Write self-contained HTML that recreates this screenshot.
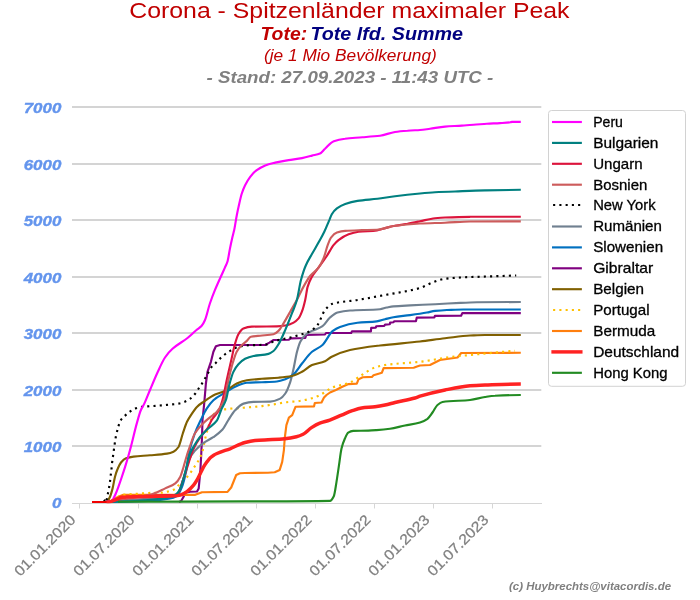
<!DOCTYPE html>
<html lang="de"><head><meta charset="utf-8"><title>Corona - Spitzenländer maximaler Peak</title>
<style>html,body{margin:0;padding:0;background:#fff}body{width:700px;height:600px;overflow:hidden}svg{display:block;will-change:transform;opacity:.999}text{font-family:"Liberation Sans", sans-serif}.yt{font-size:14.2px;font-weight:bold;font-style:italic;fill:#6495ed;text-anchor:end;stroke:#6495ed;stroke-width:0.35px}.xt{font-size:14.6px;fill:#808080;text-anchor:end;stroke:#808080;stroke-width:0.25px}.lg{font-size:14.6px;fill:#000;stroke:#000;stroke-width:0.3px}.c{fill:none;stroke-linejoin:round;stroke-linecap:butt}</style></head><body>
<svg width="700" height="600" viewBox="0 0 700 600">
<rect width="700" height="600" fill="#fff"/>
<text x="129.3" y="17.8" font-size="22.3" fill="#c00000" textLength="440.2" lengthAdjust="spacingAndGlyphs">Corona - Spitzenländer maximaler Peak</text>
<text x="260.5" y="40" font-size="17.8" font-weight="bold" font-style="italic" fill="#c00000" textLength="46.6" lengthAdjust="spacingAndGlyphs">Tote:</text>
<text x="310.4" y="40" font-size="17.8" font-weight="bold" font-style="italic" fill="#000080" textLength="152.7" lengthAdjust="spacingAndGlyphs">Tote lfd. Summe</text>
<text x="264" y="61" font-size="16.2" font-style="italic" fill="#c00000" textLength="172.8" lengthAdjust="spacingAndGlyphs">(je 1 Mio Bevölkerung)</text>
<text x="206.5" y="83" font-size="16.2" font-weight="bold" font-style="italic" fill="#808080" textLength="286.8" lengthAdjust="spacingAndGlyphs">- Stand: 27.09.2023 - 11:43 UTC -</text>
<g stroke="#d4d4d4" stroke-width="2">
<line x1="72" x2="541.3" y1="446" y2="446"/>
<line x1="72" x2="541.3" y1="390" y2="390"/>
<line x1="72" x2="541.3" y1="333" y2="333"/>
<line x1="72" x2="541.3" y1="277" y2="277"/>
<line x1="72" x2="541.3" y1="220" y2="220"/>
<line x1="72" x2="541.3" y1="164" y2="164"/>
<line x1="72" x2="541.3" y1="107" y2="107"/>
</g>
<g stroke="#d6d6d6" stroke-width="1">
<line x1="72" x2="542" y1="503.5" y2="503.5"/>
<line x1="79.5" x2="79.5" y1="503.5" y2="508.5"/>
<line x1="138.5" x2="138.5" y1="503.5" y2="508.5"/>
<line x1="197.5" x2="197.5" y1="503.5" y2="508.5"/>
<line x1="256.5" x2="256.5" y1="503.5" y2="508.5"/>
<line x1="315.5" x2="315.5" y1="503.5" y2="508.5"/>
<line x1="374.5" x2="374.5" y1="503.5" y2="508.5"/>
<line x1="433.5" x2="433.5" y1="503.5" y2="508.5"/>
<line x1="492.5" x2="492.5" y1="503.5" y2="508.5"/>
</g>
<text class="yt" x="61.3" y="507.9" textLength="9.4" lengthAdjust="spacingAndGlyphs">0</text>
<text class="yt" x="61.3" y="452.2" textLength="37.6" lengthAdjust="spacingAndGlyphs">1000</text>
<text class="yt" x="61.3" y="396.2" textLength="37.6" lengthAdjust="spacingAndGlyphs">2000</text>
<text class="yt" x="61.3" y="339.2" textLength="37.6" lengthAdjust="spacingAndGlyphs">3000</text>
<text class="yt" x="61.3" y="283.2" textLength="37.6" lengthAdjust="spacingAndGlyphs">4000</text>
<text class="yt" x="61.3" y="226.2" textLength="37.6" lengthAdjust="spacingAndGlyphs">5000</text>
<text class="yt" x="61.3" y="170.2" textLength="37.6" lengthAdjust="spacingAndGlyphs">6000</text>
<text class="yt" x="61.3" y="113.2" textLength="37.6" lengthAdjust="spacingAndGlyphs">7000</text>
<text class="xt" transform="translate(76.4,520.8) rotate(-45)" x="0" y="0" textLength="79.5" lengthAdjust="spacingAndGlyphs">01.01.2020</text>
<text class="xt" transform="translate(135.4,520.8) rotate(-45)" x="0" y="0" textLength="79.5" lengthAdjust="spacingAndGlyphs">01.07.2020</text>
<text class="xt" transform="translate(194.4,520.8) rotate(-45)" x="0" y="0" textLength="79.5" lengthAdjust="spacingAndGlyphs">01.01.2021</text>
<text class="xt" transform="translate(253.4,520.8) rotate(-45)" x="0" y="0" textLength="79.5" lengthAdjust="spacingAndGlyphs">01.07.2021</text>
<text class="xt" transform="translate(312.4,520.8) rotate(-45)" x="0" y="0" textLength="79.5" lengthAdjust="spacingAndGlyphs">01.01.2022</text>
<text class="xt" transform="translate(371.4,520.8) rotate(-45)" x="0" y="0" textLength="79.5" lengthAdjust="spacingAndGlyphs">01.07.2022</text>
<text class="xt" transform="translate(430.4,520.8) rotate(-45)" x="0" y="0" textLength="79.5" lengthAdjust="spacingAndGlyphs">01.01.2023</text>
<text class="xt" transform="translate(489.4,520.8) rotate(-45)" x="0" y="0" textLength="79.5" lengthAdjust="spacingAndGlyphs">01.07.2023</text>
<clipPath id="ax"><rect x="72" y="100" width="470" height="403.2"/></clipPath><g clip-path="url(#ax)">
<path class="c" d="M179,501.9 L181.1,501 L183.6,496.8 L185.3,492.6 L190,491.8 L197,491.5 L198.7,488.4 L200.3,471.7 L201.2,455 L202,437.5 L202.5,420 L204.2,403.6 L205.9,383.5 L207.5,371.8 L210.9,361.8 L213.4,351.8 L215.9,346.2 L220,345 L265.2,345 L269.4,342.6 L273.6,340 L288.6,339.7 L291.1,338.4 L305.3,338 L306.2,335 L325,334.5 L326,333 L351.2,333 L352,331.3 L370.9,331.3 L371.2,327.9 L375.9,327.6 L376.2,326.3 L384.2,325.9 L385.1,324.6 L389.8,324.2 L390.1,322.6 L393.4,322.2 L394.3,321.2 L416,321.1 L416.8,317.6 L434.4,317.4 L434.9,315.9 L461.1,315.7 L462.3,313.1 L520.8,313.1" stroke="#800080" stroke-width="2.15"/>
<path class="c" d="M106,501.9 L110,501.5 L112.5,500 L118.4,496.8 L123.4,494.8 L195.3,494.8 L202,492.2 L227.5,491.9 L231.2,487.5 L236.2,475 L240,473.2 L245,473 L268,472.7 L274.7,472.2 L279.7,469.9 L282.2,461.9 L283.9,450.2 L284.7,438.5 L286.4,425.1 L288.9,417.6 L292.2,415.1 L295.6,406.7 L314,406.4 L314.8,403 L321.5,402.5 L324,397.5 L326.5,395 L330,392.5 L335.9,390 L341.8,387 L348.5,384.1 L356.8,383.6 L358.5,379.4 L362.7,377.2 L371.9,376.9 L373.5,375.3 L381.9,372.7 L383.6,368.1 L413.7,367.7 L417,366.5 L420,365.5 L430,365 L440,360 L457.5,357.5 L461.2,353 L520.8,352.8" stroke="#ff7f0e" stroke-width="2.15"/>
<path class="c" d="M106,501.9C106.7,501.8 107.3,501.7 108,501.5C109.5,501.1 111,500.6 112.5,500C115.9,498.7 119.2,495.5 122.6,495C127.3,494.3 132.1,494.2 136.8,493.8C140.7,493.5 144.6,493.2 148.5,493C153,492.8 157.5,492.9 162,492.6C163.9,492.5 165.8,492 167.7,491.6C169.9,491.1 172.2,490.5 174.4,489.4C175.8,488.7 177.2,486.6 178.6,485.2C181.4,482.5 184.1,480.3 186.9,477.2C188.3,475.6 189.7,473.8 191.1,471.9C192.2,470.4 193.3,468.6 194.4,466.9C195.5,465.2 196.7,463.7 197.8,461.8C198.8,460.1 199.8,458.4 200.8,456C201.5,454.4 202.1,452.5 202.8,450.1C203.6,447.1 204.5,441.6 205.3,438.1C205.9,435.7 206.4,433.8 207,431.8C207.8,428.9 208.7,425.7 209.5,423.4C210.9,419.6 212.3,415.4 213.7,414.2C217.2,411.3 220.7,410 224.2,409.4C230.6,408.4 237.1,408.3 243.5,407.7C249.6,407.2 255.8,406.8 261.9,406.1C265.8,405.7 269.7,405 273.6,404.4C278,403.7 282.5,402.7 286.9,402.2C290.8,401.7 294.7,401.6 298.6,401.1C303.1,400.5 307.5,399.5 312,398.2C314.7,397.4 317.3,396.3 320,395C324.2,393 328.3,389.1 332.5,387.5C338.3,385.2 344.2,384.9 350,382.5C353.3,381.1 356.7,378.3 360,376.2C365,373.2 370,369.2 375,367.5C378.3,366.4 381.7,365.5 385,365C396.7,363.3 408.3,363.1 420,361.8C425,361.2 430,360.3 435,359.5C440,358.7 445,357.6 450,357C455,356.4 460,356 465,355.5C470.8,354.9 476.7,354.3 482.5,353.8C493.3,352.7 504.2,351.7 515,350.8" stroke="#ffc000" stroke-width="2.15" stroke-dasharray="2.1 4.15"/>
<path class="c" d="M106,501.9C113,501.2 120,500.5 127,500C135.3,499.4 143.7,499.1 152,498.5C157.5,498.1 163.1,497.8 168.6,496.8C171.9,496.2 175.3,495.3 178.6,492.6C180.3,491.2 182.1,482.9 183.8,477.5C185.6,471.8 187.5,463 189.3,459.2C191.1,455.4 193,453 194.8,450.9C197.9,447.4 200.9,444.9 204,442.7C207.1,440.5 210.1,439.3 213.2,437.2C216.2,435.1 219.3,433.1 222.3,429.8C224.3,427.6 226.4,423.1 228.4,420C230.6,416.6 232.9,412.6 235.1,410.3C237.9,407.4 240.7,404.4 243.5,403.6C246.8,402.6 250.2,402 253.5,401.9C259.1,401.7 264.6,401.8 270.2,401.6C273.5,401.5 276.9,400.2 280.2,398.6C281.9,397.8 283.6,395.9 285.3,393.5C287,391.2 288.6,386.8 290.3,381.8C291.4,378.5 292.5,373.4 293.6,368.5C294.7,363.5 295.9,356.1 297,351.8C298.1,347.7 299.2,343.8 300.3,341.7C302,338.5 303.6,336.4 305.3,335C307.5,333.1 309.8,332.1 312,330.9C315.5,329.1 319,328.6 322.5,326.2C325,324.6 327.5,319.6 330,317.5C332.5,315.4 335,313.2 337.5,312.5C341.7,311.4 345.8,310.8 350,310.5C360,309.8 370,310.1 380,309.2C382.2,309 384.5,307.9 386.7,307.5C388.9,307.1 391.2,306.6 393.4,306.4C399,305.9 404.5,305.7 410.1,305.4C418.5,305 426.8,304.6 435.2,304.2C443.6,303.8 451.9,303.3 460.3,302.9C465.9,302.6 471.4,302.3 477,302.2C491.6,302.1 506.2,302 520.8,302" stroke="#708090" stroke-width="2.15"/>
<path class="c" d="M106,501.9C120.2,501.9 134.3,501.5 148.5,501C155.2,500.7 161.9,500 168.6,498.8C171.4,498.3 174.1,497.7 176.9,496C178.6,495 180.3,491 182,486.8C183.3,483.5 184.7,477.9 186,471.7C187.1,466.6 188.2,456.6 189.3,451.8C191.1,443.7 193,438.4 194.8,433.5C196.8,428.1 198.8,424.2 200.8,420C202.8,415.9 204.7,411.6 206.7,408.6C208.9,405.2 211.2,402.2 213.4,400.2C217.3,396.8 221.2,395.1 225.1,392.7C229,390.3 232.9,387.6 236.8,386C240.1,384.6 243.5,382.9 246.8,382.7C251.8,382.4 256.9,382.4 261.9,382.2C266.9,382 271.9,381.9 276.9,381.5C279.7,381.3 282.5,380.3 285.3,379.3C288.1,378.3 290.8,376.6 293.6,374.3C296.4,372 299.2,366.9 302,363.5C305.3,359.4 308.7,354.6 312,351.8C315.5,348.9 319,348.1 322.5,345C325.8,342.1 329.2,333.9 332.5,331.2C335,329.3 337.5,327.9 340,327C345.8,324.9 351.7,323.5 357.5,322.8C363.9,322.1 370.3,322.2 376.7,321.4C379.5,321.1 382.3,319.9 385.1,319.2C387.9,318.5 390.6,317.7 393.4,317.2C399,316.2 404.5,315.9 410.1,315.1C415.7,314.3 421.3,313.5 426.9,312.5C429.7,312 432.4,311.2 435.2,310.9C439.1,310.5 443,310.2 446.9,310C452.5,309.8 458,309.5 463.6,309.5C482.7,309.5 501.7,309.5 520.8,309.5" stroke="#0070c0" stroke-width="2.15"/>
<path class="c" d="M105,501.8C105.3,501.9 105.7,501.9 106,501.9C106.5,501.9 107.1,501.4 107.6,501C108.4,500.3 109.2,498.6 110,496.8C110.9,494.8 111.7,491.8 112.6,488.4C113.4,485.3 114.2,479.7 115,476.7C115.9,473.5 116.7,471 117.6,469C118.7,466.3 119.9,463.9 121,462.5C122.7,460.5 124.3,458.9 126,458.3C128.5,457.4 131,456.9 133.5,456.6C139,455.9 144.5,455.8 150,455.3C155.7,454.8 161.3,454.5 167,453.6C169.2,453.3 171.3,452.7 173.5,451.7C175.2,450.9 176.8,449.4 178.5,447C179.9,444.9 181.4,437.7 182.8,433.5C184.2,429.4 185.6,424.7 187,421.8C188.6,418.5 190.1,416.4 191.7,414C193.4,411.4 195.2,408.6 196.9,406.9C199.1,404.7 201.2,403.4 203.4,401.9C207.3,399.1 211.2,396.1 215.1,394.4C218.4,392.9 221.8,392.5 225.1,391C229,389.3 232.9,385.2 236.8,383.5C240.1,382.1 243.5,380.7 246.8,380.2C251.8,379.4 256.9,379.2 261.9,378.8C267.5,378.4 273,378.2 278.6,377.7C283,377.3 287.5,376.9 291.9,376C295.3,375.3 298.6,373.5 302,371.8C305.3,370.1 308.7,366.5 312,365.1C316.3,363.3 320.7,363.1 325,361.2C327.1,360.3 329.2,358.1 331.2,357C337.5,353.8 343.8,351.4 350,350C360,347.8 370,346.7 380,345.5C393.3,343.9 406.7,343 420,341.5C428.3,340.5 436.7,339.2 445,338.2C453.3,337.3 461.7,335.9 470,335.5C475,335.3 480,335 485,335C496.9,335 508.8,335 520.8,335" stroke="#806000" stroke-width="2.15"/>
<path class="c" d="M104,501.5C104.6,500 105.3,500 105.9,500C105.9,500 106,501.9 106,501.9C106.5,501.9 107.1,497.5 107.6,495C108,493 108.5,490.8 108.9,488.4C109.3,486.4 109.6,484.5 110,481.7C110.2,480.2 110.4,477.7 110.6,476C110.9,473.8 111.1,472.4 111.4,470C111.6,468.2 111.8,465.2 112,463.4C112.3,460.8 112.6,459.1 112.9,457C114,449.3 115.1,439.9 116.2,435C117.8,428.2 119.4,422.4 120.9,420C122.3,417.8 123.7,416.9 125.1,415.6C126.7,414.1 128.2,412.7 129.8,411.6C131.6,410.4 133.3,409.2 135.1,408.6C137.2,407.8 139.4,407.2 141.5,406.9C143.5,406.6 145.6,406.6 147.6,406.4C154,405.9 160.5,405.5 166.9,404.9C170.8,404.5 174.7,404.3 178.6,403.6C180.5,403.3 182.5,402.6 184.4,401.9C186.4,401.1 188.3,400 190.3,398.6C192,397.4 193.6,395.6 195.3,393.5C196.4,392.1 197.5,390.1 198.6,388.5C199.7,386.8 200.9,385.3 202,383.5C203,381.9 204,380.2 205,378.5C205.9,376.9 206.9,375.2 207.8,373.5C208.9,371.5 210,369 211.1,367.6C212.5,365.8 213.9,364.9 215.3,363.5C216.9,361.9 218.4,360 220,358.6C223.4,355.6 226.7,352.9 230.1,350.9C232.9,349.2 235.7,347.4 238.5,346.7C241.3,346 244,345.6 246.8,345.4C252.9,345 259.1,345.2 265.2,344.7C268.5,344.4 271.9,341.9 275.2,340.9C280.2,339.5 285.3,338.8 290.3,337.5C294.2,336.5 298.1,335.5 302,334.2C305.3,333.1 308.7,332 312,330C313.8,328.9 315.7,327.2 317.5,325C320,321.9 322.5,312.9 325,310C327.5,307.1 330,304.5 332.5,303.8C340.8,301.3 349.2,301.4 357.5,300C366.7,298.5 375.8,296.7 385,295C396.7,292.8 408.3,291.4 420,288C424.2,286.8 428.3,284 432.5,282.5C436.7,281 440.8,279.3 445,278.8C450,278.1 455,277.8 460,277.5C471.7,276.9 483.3,276.7 495,276.2C502.1,276 509.2,275.7 516.2,275.5" stroke="#000000" stroke-width="2.15" stroke-dasharray="2.1 4.15"/>
<path class="c" d="M106,501.9C106.7,501.8 107.3,501.6 108,501.5C111.3,500.9 114.7,500.5 118,500C123.7,499.1 129.3,497.6 135,497C143.3,496.1 151.7,495.4 160,495.2C165.7,495.1 171.3,495.2 177,495C178.7,495 180.3,487.4 182,483C183.8,478.1 185.7,472 187.5,466.5C189.3,461 191.2,454.1 193,450C195.4,444.5 197.9,440.7 200.3,437.2C202.8,433.6 205.2,431.9 207.7,428C209,425.9 210.4,422.2 211.7,420C214.1,416 216.6,414.7 219,410C220.2,407.7 221.3,404.1 222.5,400C223.9,395.1 225.3,386.6 226.7,380.2C228.1,373.8 229.5,367.9 230.9,361.8C232.3,355.7 233.7,348.2 235.1,343.5C236.2,339.8 237.3,336.1 238.4,334.3C240.1,331.5 241.7,329.3 243.4,328.6C246.2,327.4 249,326.7 251.8,326.6C260.2,326.4 268.5,326.5 276.9,326.4C280.2,326.3 283.6,325.8 286.9,325.2C289.1,324.8 291.4,323.8 293.6,322.6C295.3,321.7 296.9,320.4 298.6,318.4C299.7,317.1 300.8,314.5 301.9,311.7C303,308.9 304.1,304.8 305.2,300C306,296.5 306.8,289.7 307.6,286.9C309,282.1 310.4,279.4 311.8,276.9C314,272.9 316.3,270.8 318.5,267.7C321.3,263.9 324,260.2 326.8,256C329,252.6 331.3,247.8 333.5,245.1C335.2,243.1 336.8,241.4 338.5,240.1C341.9,237.6 345.2,235.5 348.6,234.3C351.9,233.1 355.3,232.2 358.6,231.8C364.7,231 370.9,231.2 377,230.4C380.3,230 383.7,228.4 387,227.6C389.7,226.9 392.3,226.3 395,225.8C399.2,225 403.3,224.5 407.5,223.8C411.7,223 415.8,222.1 420,221.2C425,220.2 430,218.7 435,218.2C438.3,217.9 441.7,217.6 445,217.5C453.3,217.1 461.7,216.8 470,216.8C486.9,216.7 503.8,216.7 520.8,216.7" stroke="#dc143c" stroke-width="2.15"/>
<path class="c" d="M106,501.9C106.7,501.8 107.3,501.6 108,501.5C110.3,501 112.7,500.4 115,500C121.7,498.9 128.3,498.6 135,497.6C140.6,496.8 146.3,495.9 151.9,494.3C156.3,493.1 160.8,490.5 165.2,488.4C168.6,486.8 171.9,486 175.3,483.4C177,482.1 178.6,479.9 180.3,476.7C181.4,474.6 182.5,470.2 183.6,466.7C184.7,463 185.9,458.6 187,455C187.8,452.6 188.5,450.4 189.3,448.2C191.1,443 193,436.6 194.8,433.5C197.9,428.3 200.9,425.6 204,422.5C205.5,421 206.9,419.8 208.4,418.6C211.2,416.3 213.9,414.9 216.7,411.9C219.2,409.2 221.7,406.2 224.2,400C225.6,396.5 227,386.2 228.4,380.2C229.8,374.2 231.2,368.1 232.6,363.5C234,359 235.3,354.3 236.7,351.8C238.4,348.7 240.1,346.8 241.8,345.1C243.5,343.4 245.1,342.4 246.8,340.9C248.2,339.6 249.5,337.1 250.9,336.8C254,336.1 257,336 260.1,335.7C264.6,335.2 269,335.2 273.5,334.3C275.2,334 276.8,332.5 278.5,330.9C280.2,329.3 281.8,326.1 283.5,323.4C285.7,319.8 288,315.6 290.2,311.7C292.4,307.8 294.6,304.1 296.8,300C299,295.9 301.2,290.8 303.4,286.9C305.6,282.9 307.9,278.8 310.1,276C312.9,272.5 315.7,271.4 318.5,267.7C320.2,265.5 321.8,262.4 323.5,258.5C324.9,255.2 326.3,248.8 327.7,245.1C328.8,242.2 329.9,239 331,237.6C333,235.1 334.9,233.3 336.9,232.6C339.7,231.7 342.4,231.1 345.2,230.9C350.8,230.4 356.3,230.3 361.9,230.1C366.9,230 372,230 377,229.8C380.3,229.7 383.7,228.4 387,227.6C389.7,227 392.3,226.1 395,225.8C403.3,224.6 411.7,223.9 420,223.5C428.3,223.1 436.7,223 445,222.7C453.3,222.4 461.7,221.6 470,221.5C486.9,221.4 503.8,221.3 520.8,221.3" stroke="#cd5c5c" stroke-width="2.15"/>
<path class="c" d="M106,501.9C115.7,501.9 125.3,501.4 135,501C143.4,500.6 151.8,499.9 160.2,498.8C165.2,498.1 170.3,497.5 175.3,495.1C177,494.3 178.6,491.6 180.3,488.4C182,485.2 183.6,477.8 185.3,471.7C186.7,466.6 188.1,458.7 189.5,455C191,451 192.5,448.6 194,446C196,442.5 198,439.5 200,437C202.6,433.8 205.1,431.4 207.7,428.9C210.7,425.9 213.8,424.9 216.8,420.7C218.4,418.4 220.1,412.2 221.7,408.6C223.1,405.5 224.5,404 225.9,400C227,396.9 228.1,389.3 229.2,385.2C230.6,380 232,374.8 233.4,371.9C235.1,368.4 236.7,366.1 238.4,364.3C240.6,361.9 242.9,359.8 245.1,358.7C247.9,357.4 250.7,356.6 253.5,356C258.5,355 263.5,355.2 268.5,353.9C270.2,353.5 271.8,352.3 273.5,351C275.2,349.7 276.8,347 278.5,344.3C280.7,340.7 283,335.2 285.2,330.1C287.4,325 289.7,319.2 291.9,313.4C293.6,309.1 295.2,305.9 296.9,300C298.2,295.3 299.6,285.2 300.9,280.2C302.6,273.9 304.2,269 305.9,265.2C307.9,260.7 309.8,257.8 311.8,254.3C314,250.3 316.3,246.6 318.5,242.6C320.4,239.1 322.4,235.8 324.3,231.8C326,228.3 327.6,224 329.3,220.1C330.1,218.1 331,215.5 331.8,214.2C333.5,211.5 335.2,209.7 336.9,208.4C339.7,206.3 342.4,204.9 345.2,203.9C349.3,202.5 353.4,201.5 357.5,200.9C364.2,199.9 370.8,199.6 377.5,198.8C383.3,198 389.2,197 395,196.2C403.3,195.2 411.7,194.3 420,193.5C425,193 430,192.5 435,192.2C441.7,191.9 448.3,191.7 455,191.5C465,191.1 475,190.6 485,190.4C496.9,190.1 508.8,189.9 520.8,189.8" stroke="#008080" stroke-width="2.15"/>
<path class="c" d="M106,501.9C106.7,501.9 107.3,501.9 108,501.8C109.3,501.7 110.7,501.5 112,501C112.5,500.8 112.9,499.5 113.4,498.6C114.1,497.2 114.9,495.7 115.6,494C116.5,491.9 117.5,489.4 118.4,486.9C119.5,483.8 120.7,480.4 121.8,477C122.9,473.7 124,470.4 125.1,466.9C126.1,463.6 127.2,460.1 128.2,456.5C129.1,453.4 130,450.2 130.9,446.8C132.9,439.4 134.8,430.4 136.8,423.4C138.2,418.5 139.5,413.2 140.9,410C142,407.3 143.2,406 144.3,403.6C146.2,399.6 148.1,394.5 150,390C152.5,384.1 155,377.9 157.5,372.5C160,367.1 162.5,361.2 165,357.5C167.5,353.8 170,351 172.5,348.8C177.5,344.2 182.5,342 187.5,338C190.5,335.6 193.5,332.5 196.5,330C198.2,328.6 199.8,327.9 201.5,326.1C202.6,324.9 203.8,322.8 204.9,320.3C206.6,316.6 208.2,308.4 209.9,303.5C211.6,298.6 213.2,294.3 214.9,290.2C216.9,285.4 218.8,281.2 220.8,276.8C222.2,273.7 223.5,270.7 224.9,267.6C225.7,265.7 226.6,264.5 227.4,261.8C228.3,259 229.1,252.7 230,248.4C230.8,244.3 231.7,240.2 232.5,236.7C233.1,234.3 233.6,232.6 234.2,230C235.1,226 235.9,219.6 236.8,215.2C237.6,210.9 238.5,207.1 239.3,203.5C240.1,199.9 241,196.1 241.8,193.5C242.9,190.1 244,187.4 245.1,185.2C246.8,181.8 248.5,179 250.2,176.8C252.4,174 254.6,171.7 256.8,170.1C259.6,168.1 262.4,166.5 265.2,165.4C268.5,164.1 271.9,163.4 275.2,162.6C279.7,161.6 284.1,160.8 288.6,160.1C293.1,159.4 297.5,158.9 302,158.1C305.3,157.5 308.7,156.5 312,155.6C314.7,154.9 317.3,154.6 320,153.5C321.7,152.8 323.3,150.3 325,148.8C327.9,146.1 330.8,142.3 333.8,141.2C337.5,139.9 341.2,139.2 345,138.8C350.8,138 356.7,137.8 362.5,137.2C368.3,136.8 374.2,136.5 380,135.8C385,135.1 390,132.7 395,132C399.2,131.4 403.3,131.1 407.5,130.8C411.7,130.4 415.8,130.3 420,130C423.3,129.7 426.7,129.2 430,128.8C435,128.1 440,127 445,126.6C450.6,126.1 456.2,126 461.8,125.6C465.7,125.4 469.6,125.1 473.5,124.8C478,124.5 482.4,124 486.9,123.7C491.3,123.4 495.6,123.4 500,123.1C503.4,122.9 506.9,122.8 510.3,122.3C510.9,122.2 511.4,121.9 512,121.9C514.9,121.9 517.8,121.9 520.8,121.9" stroke="#ff00ff" stroke-width="2.15"/>
<path class="c" d="M92,502.1 L110,502.1" stroke="#f00000" stroke-width="2"/>
<path class="c" d="M106.5,502.3C107.7,502.3 108.8,502.1 110,501.9C111.7,501.6 113.3,500.6 115,500C117.3,499.1 119.5,497.6 121.8,497.3C123.2,497.1 124.6,496.9 126,496.9C129,496.8 132,496.8 135,496.8C143.3,496.7 151.7,496.5 160,496.3C165.1,496.2 170.2,496.2 175.3,495.9C176.9,495.8 178.6,495.5 180.2,495.1C182.4,494.6 184.7,493.1 186.9,491.6C189.1,490.1 191.4,487.9 193.6,485.2C194.7,483.9 195.8,482.1 196.9,480.2C198,478.3 199.2,475.7 200.3,473.5C201.4,471.3 202.5,468.8 203.6,466.9C204.7,465 205.9,463.3 207,461.8C208.1,460.3 209.2,458.7 210.3,457.7C211.4,456.7 212.6,455.9 213.7,455.2C214.8,454.5 215.9,454 217,453.5C221.3,451.6 225.7,450.4 230,448.8C235,446.8 240,443.8 245,442.5C248.3,441.6 251.7,440.8 255,440.5C259.3,440.1 263.7,440 268,439.8C273.6,439.5 279.1,439.3 284.7,438.8C288.6,438.4 292.5,437.7 296.4,436.8C298.6,436.3 300.9,435.4 303.1,434.3C305.9,432.9 308.7,429.4 311.5,427.6C314.3,425.8 317,424.2 319.8,423.1C323.1,421.8 326.5,421.3 329.8,420.1C333.7,418.7 337.6,416.7 341.5,415.1C344.9,413.7 348.2,412.1 351.6,410.9C354.9,409.8 358.3,408.5 361.6,408C366.1,407.3 370.5,407.3 375,406.7C378.3,406.3 381.7,405.7 385,405C388.3,404.3 391.7,403.3 395,402.5C401.7,400.9 408.3,399.9 415,398C416.7,397.5 418.3,396.8 420,396.2C428.3,393.7 436.7,391.7 445,390C453.3,388.3 461.7,386.4 470,385.8C475,385.4 480,385.2 485,385C496.9,384.6 508.8,384.1 520.8,384" stroke="#ff2222" stroke-width="3.45"/>
<path class="c" d="M118,501.7C160.3,501.7 202.7,501.5 245,501.4C273.3,501.3 301.7,501.4 330,500.9C331.2,500.9 332.5,498.8 333.8,496.2C334.7,494.4 335.6,487.3 336.5,481.9C337.3,477 338.2,470.8 339,465.2C339.8,459.6 340.7,452 341.5,448.5C342.6,443.8 343.8,441 344.9,438.5C346,436.1 347.1,433.3 348.2,432.6C349.9,431.6 351.5,431 353.2,430.9C358.2,430.7 363.3,430.8 368.3,430.6C371.1,430.5 373.8,430.3 376.6,430.1C381.1,429.8 385.5,429.4 390,428.8C395,428.1 400,426.5 405,425.5C410,424.5 415,424 420,422.5C422.5,421.8 425,420.6 427.5,418.8C429.2,417.5 430.8,414.8 432.5,412.5C434.2,410.2 435.8,406.4 437.5,405C439.2,403.6 440.8,402.3 442.5,402C451.7,400.5 460.8,401 470,400C475,399.4 480,397.8 485,397C488.3,396.5 491.7,395.9 495,395.8C503.6,395.3 512.2,395 520.8,395" stroke="#228b22" stroke-width="2.15"/>
</g>
<rect x="548.5" y="110.5" width="137" height="275.8" rx="3" ry="3" fill="#fff" fill-opacity="0.8" stroke="#d2d2d2" stroke-width="1"/>
<line x1="553.1" x2="580.8" y1="122" y2="122" stroke="#ff00ff" stroke-width="2.15" stroke-linecap="square"/>
<text class="lg" x="593.2" y="126.9" textLength="29.7" lengthAdjust="spacingAndGlyphs">Peru</text>
<line x1="553.1" x2="580.8" y1="142.9" y2="142.9" stroke="#008080" stroke-width="2.15" stroke-linecap="square"/>
<text class="lg" x="593.2" y="147.8" textLength="65.2" lengthAdjust="spacingAndGlyphs">Bulgarien</text>
<line x1="553.1" x2="580.8" y1="163.8" y2="163.8" stroke="#dc143c" stroke-width="2.15" stroke-linecap="square"/>
<text class="lg" x="593.2" y="168.7" textLength="49.4" lengthAdjust="spacingAndGlyphs">Ungarn</text>
<line x1="553.1" x2="580.8" y1="184.7" y2="184.7" stroke="#cd5c5c" stroke-width="2.15" stroke-linecap="square"/>
<text class="lg" x="593.2" y="189.6" textLength="54.1" lengthAdjust="spacingAndGlyphs">Bosnien</text>
<line x1="553.1" x2="580.8" y1="205" y2="205" stroke="#000000" stroke-width="2.15" stroke-linecap="butt" stroke-dasharray="2.1 4.15"/>
<text class="lg" x="593.2" y="209.9" textLength="62.4" lengthAdjust="spacingAndGlyphs">New York</text>
<line x1="553.1" x2="580.8" y1="226.5" y2="226.5" stroke="#708090" stroke-width="2.15" stroke-linecap="square"/>
<text class="lg" x="593.2" y="231.4" textLength="68.7" lengthAdjust="spacingAndGlyphs">Rumänien</text>
<line x1="553.1" x2="580.8" y1="247.4" y2="247.4" stroke="#0070c0" stroke-width="2.15" stroke-linecap="square"/>
<text class="lg" x="593.2" y="252.3" textLength="69.9" lengthAdjust="spacingAndGlyphs">Slowenien</text>
<line x1="553.1" x2="580.8" y1="268.3" y2="268.3" stroke="#800080" stroke-width="2.15" stroke-linecap="square"/>
<text class="lg" x="593.2" y="273.2" textLength="60" lengthAdjust="spacingAndGlyphs">Gibraltar</text>
<line x1="553.1" x2="580.8" y1="289.2" y2="289.2" stroke="#806000" stroke-width="2.15" stroke-linecap="square"/>
<text class="lg" x="593.2" y="294.1" textLength="50.8" lengthAdjust="spacingAndGlyphs">Belgien</text>
<line x1="553.1" x2="580.8" y1="310" y2="310" stroke="#ffc000" stroke-width="2.15" stroke-linecap="butt" stroke-dasharray="2.1 4.15"/>
<text class="lg" x="593.2" y="314.9" textLength="56.3" lengthAdjust="spacingAndGlyphs">Portugal</text>
<line x1="553.1" x2="580.8" y1="331" y2="331" stroke="#ff7f0e" stroke-width="2.15" stroke-linecap="square"/>
<text class="lg" x="593.2" y="335.9" textLength="62" lengthAdjust="spacingAndGlyphs">Bermuda</text>
<line x1="553.1" x2="580.8" y1="351.9" y2="351.9" stroke="#ff2222" stroke-width="3.45" stroke-linecap="square"/>
<text class="lg" x="593.2" y="356.8" textLength="86" lengthAdjust="spacingAndGlyphs">Deutschland</text>
<line x1="553.1" x2="580.8" y1="372.8" y2="372.8" stroke="#228b22" stroke-width="2.15" stroke-linecap="square"/>
<text class="lg" x="593.2" y="377.7" textLength="74.3" lengthAdjust="spacingAndGlyphs">Hong Kong</text>
<text x="509" y="590" font-size="10.3" font-weight="bold" font-style="italic" fill="#808080" textLength="162" lengthAdjust="spacingAndGlyphs">(c) Huybrechts@vitacordis.de</text>
</svg></body></html>
